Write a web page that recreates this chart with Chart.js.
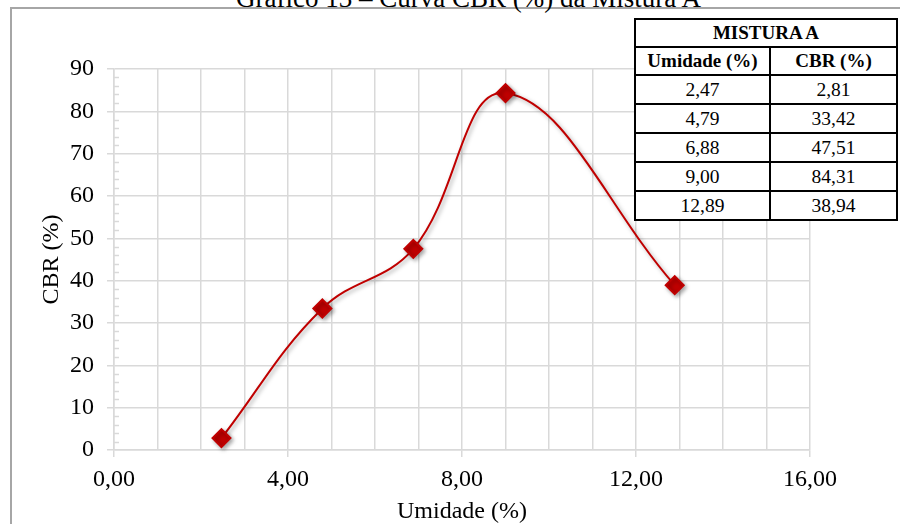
<!DOCTYPE html>
<html>
<head>
<meta charset="utf-8">
<script src="https://cdn.jsdelivr.net/npm/chart.js@4/dist/chart.umd.min.js"></script>
<style>
    body { margin: 0; background: #fff; overflow: hidden; }
    #wrap { position: relative; width: 900px; height: 524px; overflow: hidden; }
    #frame {
        position: absolute; left: 10px; top: 7px; width: 1000px; height: 1000px;
        border-left: 2px solid #a6a6a6; border-top: 2px solid #a6a6a6;
    }
    #title {
        position: absolute; left: 236px; top: -17px; line-height: 27px;
        font: 27px "Liberation Serif", serif; color: #000; white-space: nowrap;
    }
    #graph { position: absolute; left: 0; top: 0; }
    #tbl {
        position: absolute; left: 634px; top: 18px; width: 264px;
        border-collapse: collapse; background: #fff;
        font: 19.5px "Liberation Serif", serif; color: #000;
    }
    #tbl td, #tbl th { border: 2px solid #000; padding: 0; text-align: center; }
    #tbl th { font-weight: bold; font-size: 19px; height: 26px; }
    #tbl td { height: 27px; }
</style>
</head>
<body>
<div id="wrap">
    <div id="frame"></div>
    <div id="title">Gráfico 13 – Curva CBR (%) da Mistura A</div>
    <canvas id="graph" width="900" height="524"></canvas>
    <table id="tbl"></table>
</div>
<script>
const umidade = [2.47, 4.79, 6.88, 9.00, 12.89];
const cbr = [2.81, 33.42, 47.51, 84.31, 38.94];

const TABLE_TITLE = "MISTURA A";
const TABLE_HEADERS = ["Umidade (%)", "CBR (%)"];

const RED = "#c00000";
const GRID = "#d9d9d9";
const FONT = "'Liberation Serif', serif";

const fmt = (v) => v.toFixed(2).replace(".", ",");

// tabela de dados
const tbl = document.querySelector("#tbl");
let html = '<tr><th colspan="2">' + TABLE_TITLE + '</th></tr>';
html += '<tr><th style="width:133px">' + TABLE_HEADERS[0] + '</th><th>' + TABLE_HEADERS[1] + '</th></tr>';
for (let i = 0; i < umidade.length; i++) {
    html += '<tr><td>' + fmt(umidade[i]) + '</td><td>' + fmt(cbr[i]) + '</td></tr>';
}
tbl.innerHTML = html;

const points = umidade.map((x, i) => ({ x: x, y: cbr[i] }));

// marcas menores no eixo y (a cada 2)
const minorTicks = {
    id: "minorTicks",
    beforeDatasetsDraw(chart) {
        const ctx = chart.ctx;
        const y = chart.scales.y;
        const x0 = chart.chartArea.left;
        ctx.save();
        ctx.strokeStyle = GRID;
        ctx.lineWidth = 1.5;
        for (let v = 2; v < 90; v += 2) {
            if (v % 10 === 0) continue;
            const py = Math.round(y.getPixelForValue(v)) + 0.5;
            ctx.beginPath();
            ctx.moveTo(x0, py);
            ctx.lineTo(x0 + 5, py);
            ctx.stroke();
        }
        ctx.restore();
    }
};

const shadow = {
    id: "shadow",
    beforeDatasetsDraw(chart) {
        const ctx = chart.ctx;
        ctx.save();
        ctx.shadowColor = "rgba(0,0,0,0.35)";
        ctx.shadowBlur = 4;
        ctx.shadowOffsetX = 2;
        ctx.shadowOffsetY = 2;
    },
    afterDatasetsDraw(chart) {
        chart.ctx.restore();
    }
};

const config = {
    type: "scatter",
    data: {
        datasets: [{
            data: points,
            showLine: true,
            tension: 0.4,
            borderColor: RED,
            borderWidth: 2,
            backgroundColor: RED,
            pointStyle: "rectRot",
            pointRadius: 9,
            pointHoverRadius: 9,
            pointBorderColor: RED,
            pointBackgroundColor: RED,
            clip: false
        }]
    },
    options: {
        responsive: false,
        animation: false,
        events: [],
        layout: { padding: { left: 0, top: 69, right: 90, bottom: 0 } },
        plugins: {
            legend: { display: false },
            tooltip: { enabled: false }
        },
        scales: {
            x: {
                type: "linear",
                min: 0,
                max: 16,
                afterFit: (s) => { s.height = 74; },
                border: { color: GRID, width: 1.5 },
                grid: {
                    color: GRID,
                    lineWidth: 1.5,
                    tickLength: 7,
                    tickColor: (c) => (c.tick && c.tick.value % 4 === 0) ? GRID : "rgba(0,0,0,0)"
                },
                ticks: {
                    stepSize: 1,
                    autoSkip: false,
                    maxRotation: 0,
                    padding: 8,
                    color: "#000",
                    font: { family: FONT, size: 24 },
                    callback: (v) => v % 4 === 0 ? fmt(v) : ""
                },
                title: {
                    display: true,
                    text: "Umidade (%)",
                    color: "#000",
                    font: { family: FONT, size: 24, lineHeight: 1 },
                    padding: { top: 0, bottom: 0 }
                }
            },
            y: {
                type: "linear",
                min: 0,
                max: 90,
                afterFit: (s) => { s.width = 114; },
                border: { color: GRID, width: 1.5 },
                grid: { color: GRID, lineWidth: 1.5, tickLength: 7, tickColor: GRID },
                ticks: {
                    stepSize: 10,
                    padding: 13,
                    color: "#000",
                    font: { family: FONT, size: 24 }
                },
                title: {
                    display: true,
                    text: "CBR (%)",
                    color: "#000",
                    font: { family: FONT, size: 24, lineHeight: 1 },
                    padding: { top: 40, bottom: 0 }
                }
            }
        }
    },
    plugins: [minorTicks, shadow]
};

new Chart(document.querySelector("#graph"), config);
</script>
</body>
</html>
